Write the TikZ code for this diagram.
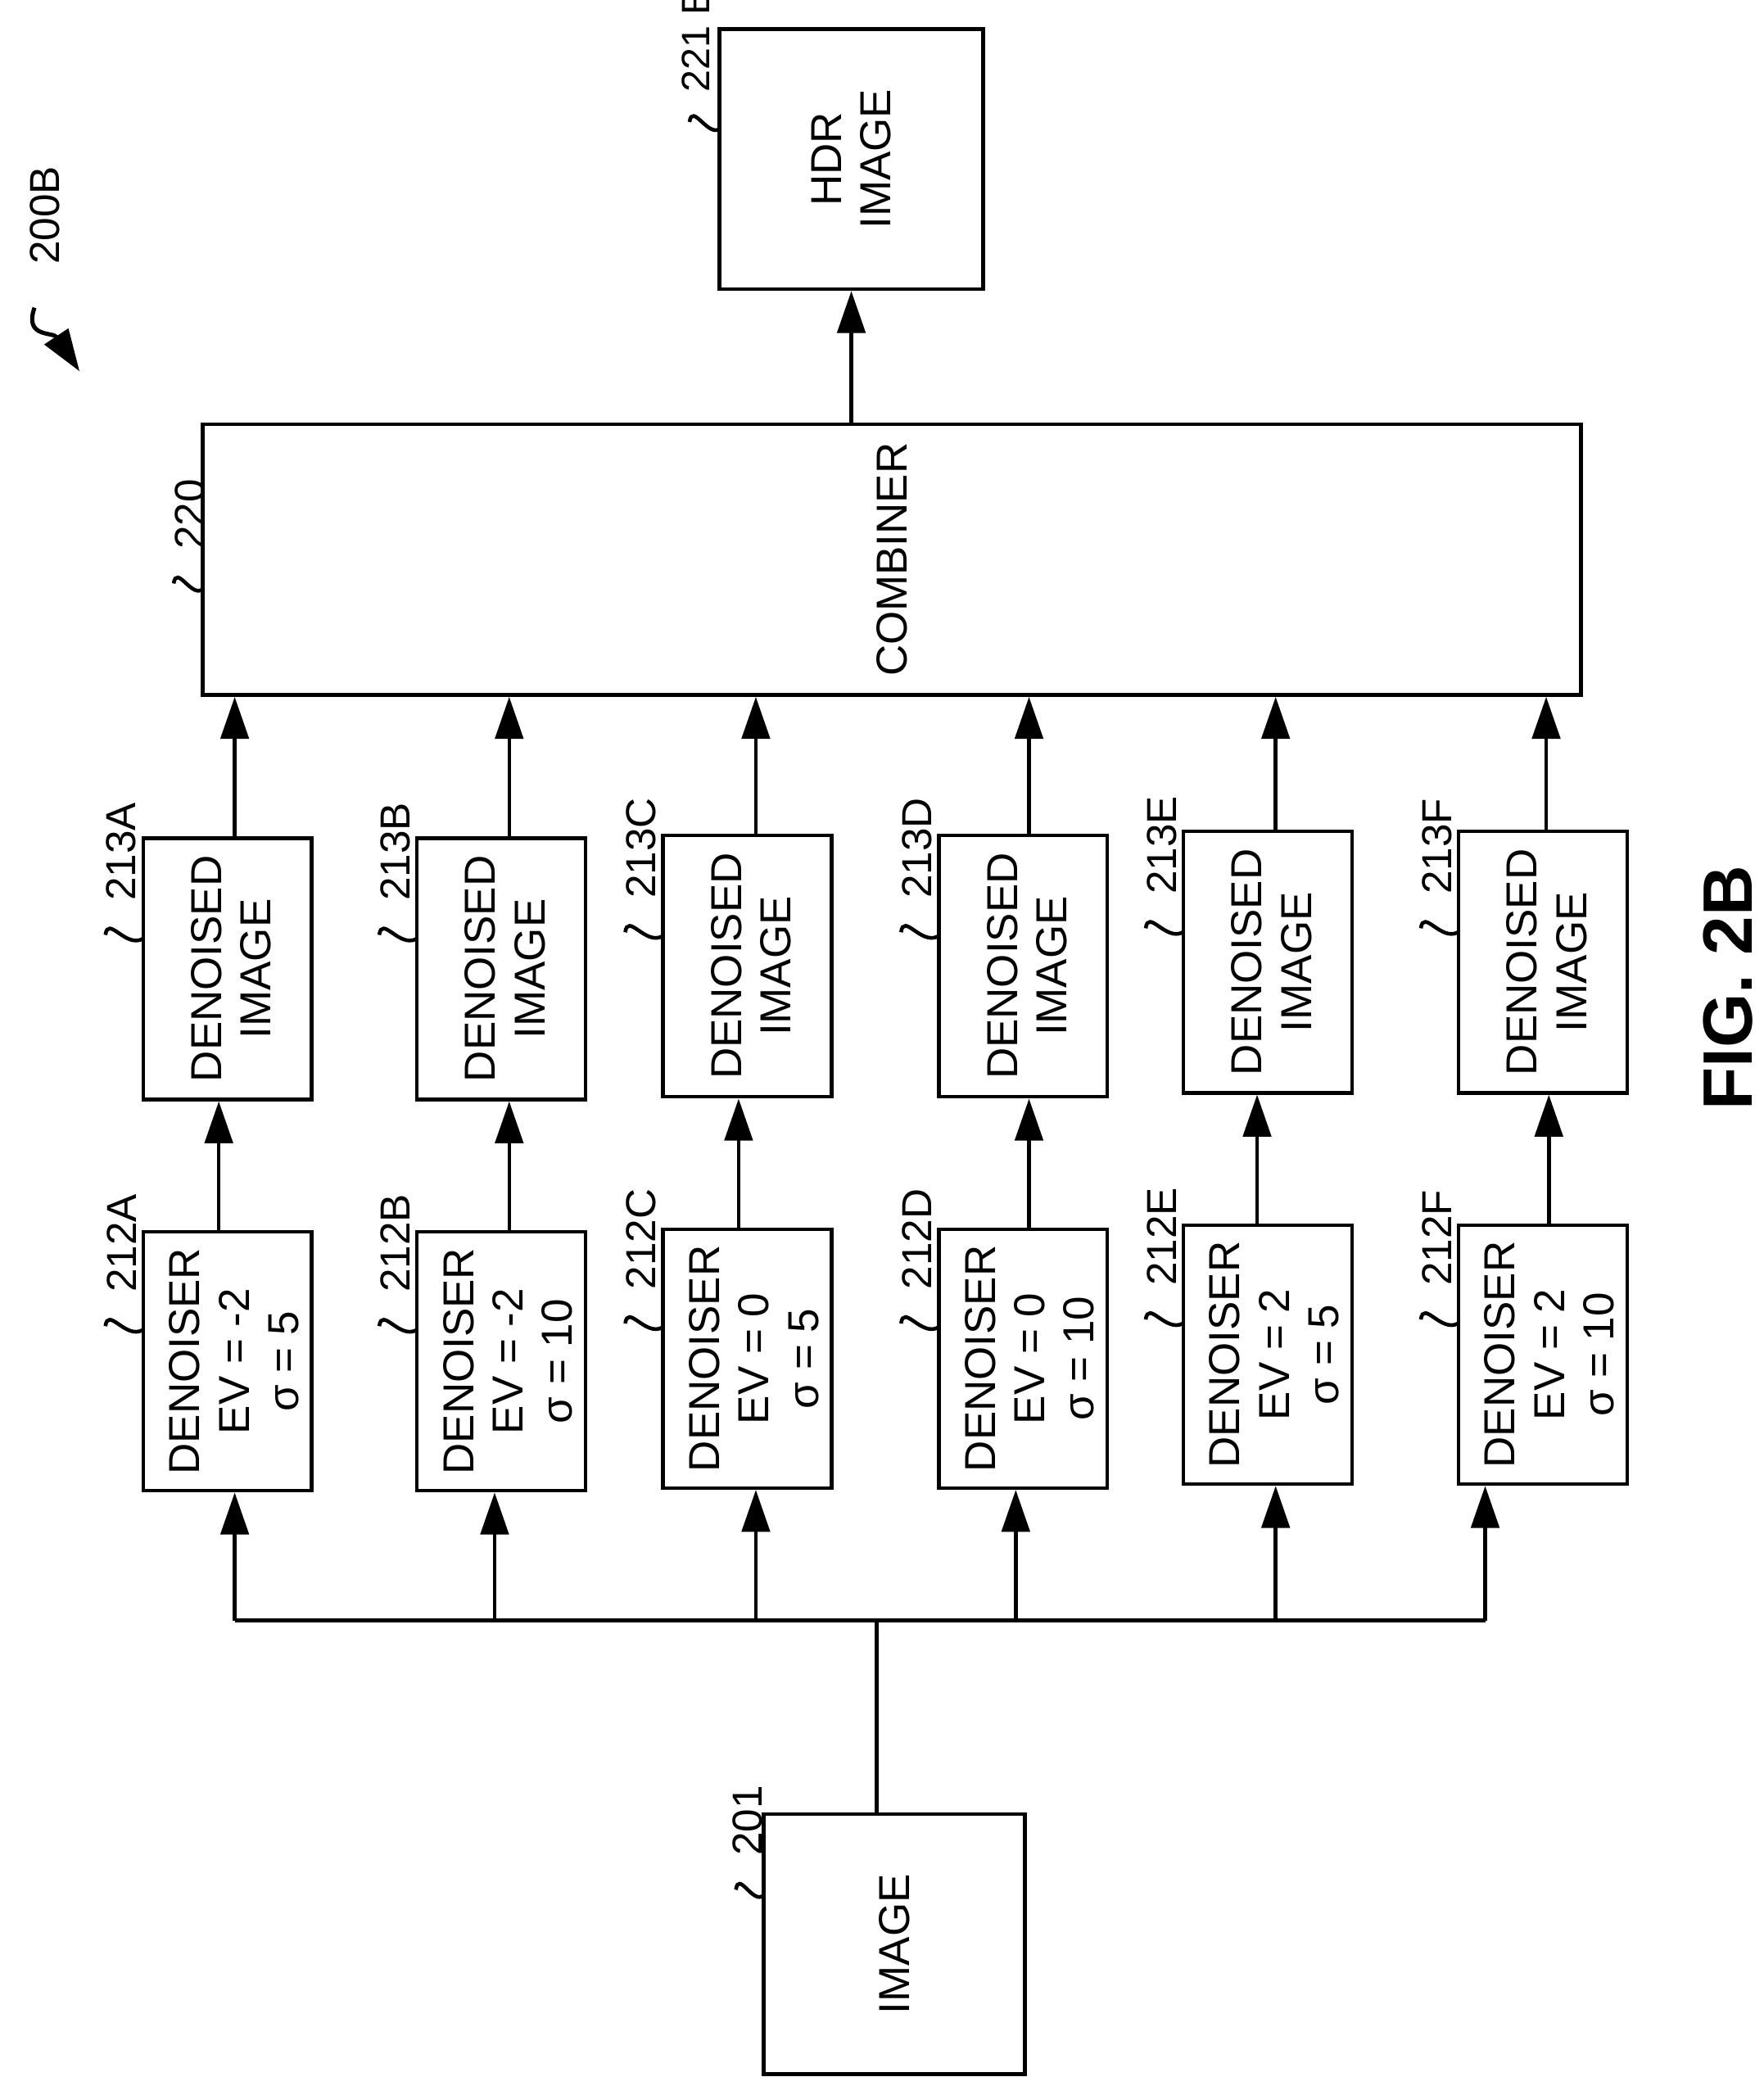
\documentclass[tikz,border=0pt]{standalone}
\usepackage{fontspec}
\setmainfont{Liberation Sans}
\usetikzlibrary{arrows.meta}

\begin{document}
\begin{tikzpicture}[x=0.01cm, y=-0.01cm, >={Triangle[length=9pt,width=6pt]}]
  \tikzstyle{block} = [draw, thick, rectangle, inner sep=0pt, align=center]
  \tikzstyle{txt} = [rotate=90, align=center, font={\fontsize{9.3}{10.6}\selectfont}]
  \tikzstyle{ref} = [rotate=90, anchor=west, inner sep=0pt, font={\fontsize{9}{10}\selectfont}]
  \tikzstyle{flow} = [thick, ->]
  \tikzstyle{wire} = [thick]
  \tikzstyle{leader} = [thick]

  \useasboundingbox (0,0) rectangle (1330,1573);

  % output and combiner
  \node[block, minimum width=1.99cm, minimum height=1.96cm] (hdr) at (642,120) {};
  \node[txt] at (hdr) {HDR\\IMAGE};
  \node[ref, font={\fontsize{8.5}{10}\selectfont}] (hdrref) at (525,70) {221 B};
  \draw[leader] (520,92) .. controls (522,77) and (534,104) .. (543,97);

  \node[block, minimum width=10.39cm, minimum height=2.04cm] (comb) at (672.5,422) {};
  \node[txt] at (comb) {COMBINER};
  \node[ref] (combref) at (143,415) {220};
  \draw[leader] (131,440) .. controls (133,425) and (145,452) .. (153,444);
  \draw[flow] (comb.north -| hdr) -- (hdr.south);

  % input
  \node[block, minimum width=1.97cm, minimum height=1.96cm] (img) at (674.5,1466) {};
  \node[txt] at (img) {IMAGE};
  \node[ref] (imgref) at (564,1400) {201};
  \draw[leader] (555,1425) .. controls (557,1410) and (568,1437) .. (576,1429);

  \coordinate (split) at (661,1222);
  \draw[wire] (img.north -| split) -- (split);
  \draw[wire] (177,1222) -- (1120,1222);

  % six branches: box x, top y shift, bus x, mid x, out x, letter, EV, sigma
  \foreach \bx/\dy/\ax/\mx/\ox/\id/\ev/\sg in {
      171.5/0/177/165/177/A/-2/5,
      378/0/373/384/384/B/-2/10,
      563.5/-2/570/557/570/C/0/5,
      771.5/-2/766/776/776/D/0/10,
      956/-5/962/948/962/E/2/5,
      1163.5/-5/1120/1168/1166/F/2/10} {
    \node[block, minimum width=1.27cm, minimum height=1.95cm] (den\id) at (\bx,1026.5+\dy) {};
    \node[txt] at (\bx+5,1026.5+\dy) {DENOISER\\EV = \ev\\σ = \sg};
    \node[block, minimum width=1.27cm, minimum height=1.97cm] (img\id) at (\bx,730.5+\dy) {};
    \node[txt] at (\bx+3,730.5+\dy) {DENOISED\\IMAGE};
    \node[ref] at (\bx-80,975+\dy) {212\id};
    \draw[leader] (\bx-92,1000+\dy) .. controls (\bx-90,985+\dy) and (\bx-77,1010+\dy) .. (\bx-64,1003+\dy);
    \node[ref] at (\bx-80,680+\dy) {213\id};
    \draw[leader] (\bx-92,705+\dy) .. controls (\bx-90,690+\dy) and (\bx-77,715+\dy) .. (\bx-64,708+\dy);
    \coordinate (bus\id) at (\ax,1222);
    \draw[flow] (bus\id) -- (bus\id |- den\id.south);
    \draw[flow] (den\id.north -| \mx,0) -- (img\id.south -| \mx,0);
    \draw[flow] (img\id.north -| \ox,0) -- (comb.south -| \ox,0);
  }

  % figure caption and tag
  \node[rotate=90, font={\fontsize{15}{17}\bfseries\selectfont}] (fig) at (1303,745) {FIG. 2B};
  \node[ref] (tag) at (34,200) {200B};
  \coordinate (tagtip) at (60,280);
  \draw[flow, line width=0.9pt] (26,232) .. controls (18,255) and (40,250) .. (tagtip);
\end{tikzpicture}
\end{document}
